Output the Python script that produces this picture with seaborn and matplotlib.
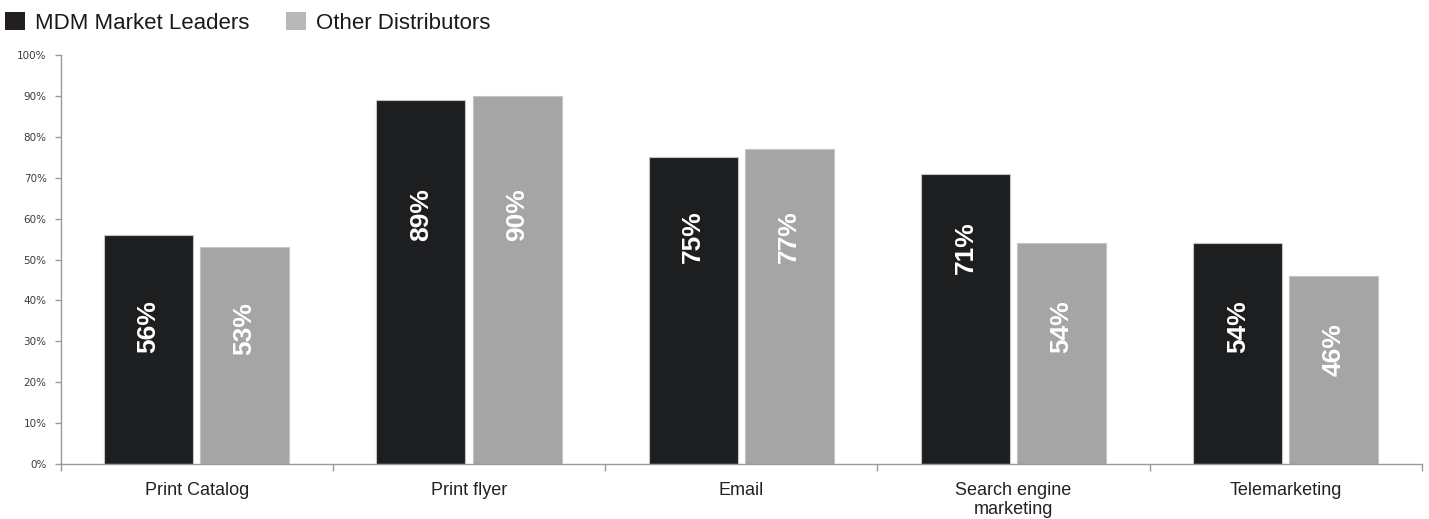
import matplotlib
matplotlib.use("Agg")
import matplotlib.pyplot as plt
from matplotlib.patches import Patch
from matplotlib.ticker import FixedLocator, PercentFormatter
import pandas as pd
import seaborn as sns

# Survey results: share of distributors using each marketing channel (%)
categories = ["Print Catalog", "Print flyer", "Email", "Search engine\nmarketing", "Telemarketing"]
series_names = ["MDM Market Leaders", "Other Distributors"]
leaders = [56, 89, 75, 71, 54]
others = [53, 90, 77, 54, 46]
y_ticks = [0, 10, 20, 30, 40, 50, 60, 70, 80, 90, 100]

# Height (in axis units) at which each rotated value label is centred
leaders_label_y = [33.5, 61, 55.5, 53, 33.5]
others_label_y = [33, 61, 55.5, 33.5, 28]

bar_colors = ["#1c1e20", "#a4a5a4"]
legend_colors = ["#231f20", "#b7b8ba"]

df = pd.DataFrame({
    "channel": categories * 2,
    "group": [series_names[0]] * len(categories) + [series_names[1]] * len(categories),
    "share": leaders + others,
})

sns.set_theme(style="white")
plt.rcParams["font.family"] = ["Liberation Sans", "DejaVu Sans"]

fig = plt.figure(figsize=(14.29, 5.19), dpi=100)
ax = fig.add_axes([60.5 / 1429, 1 - 464 / 519, (1422 - 60.5) / 1429, (464 - 55) / 519])

sns.barplot(
    data=df, x="channel", y="share", hue="group",
    order=categories, hue_order=series_names,
    palette=bar_colors, width=0.706, gap=0.074,
    edgecolor="#c4c4c4", linewidth=0.8,
    legend=False, ax=ax,
)

ax.set_xlim(-0.5, len(categories) - 0.5)
ax.set_ylim(0, 100)
ax.set_xlabel("")
ax.set_ylabel("")

# Value labels inside the bars, rotated
for container, vals, ys in zip(ax.containers, [leaders, others], [leaders_label_y, others_label_y]):
    for patch, v, yy in zip(container.patches, vals, ys):
        cx = patch.get_x() + patch.get_width() / 2
        ax.text(cx, yy, f"{v}%", rotation=90, ha="center", va="center",
                color="white", fontsize=19, fontweight="bold")

# Spines
for side in ["top", "right"]:
    ax.spines[side].set_visible(False)
for side in ["left", "bottom"]:
    ax.spines[side].set_color("#9a9a9a")
    ax.spines[side].set_linewidth(1.0)

# Y axis: percent ticks
ax.yaxis.set_major_locator(FixedLocator(y_ticks))
ax.yaxis.set_major_formatter(PercentFormatter(decimals=0))
ax.tick_params(axis="y", which="major", left=True, length=4, width=1, color="#9a9a9a",
               labelsize=7.5, labelcolor="#3a3a48", pad=6)
for lab in ax.get_yticklabels():
    lab.set_family("DejaVu Sans")

# X axis: tick marks on category boundaries, labels at centres
ax.xaxis.set_major_locator(FixedLocator([i - 0.5 for i in range(len(categories) + 1)]))
ax.xaxis.set_major_formatter(plt.NullFormatter())
ax.xaxis.set_minor_locator(FixedLocator(list(range(len(categories)))))
ax.set_xticklabels(categories, minor=True)
ax.tick_params(axis="x", which="major", bottom=True, length=5, width=1, color="#9a9a9a")
ax.tick_params(axis="x", which="minor", bottom=True, length=0, labelsize=13,
               labelcolor="#222222", pad=13)
for lab in ax.get_xticklabels(minor=True):
    lab.set_linespacing(1.15)

# Legend in the top-left corner of the figure
handles = [Patch(facecolor=c, edgecolor="none") for c in legend_colors]
fig.legend(handles, series_names, loc="upper left", bbox_to_anchor=(5 / 1429, 1 - 12 / 519),
           ncol=2, frameon=False, fontsize=16, handlelength=0.9, handleheight=0.9,
           handletextpad=0.45, columnspacing=1.65, borderpad=0, borderaxespad=0,
           labelcolor="#1a1a1a")

fig.savefig("out.png", dpi=100)
